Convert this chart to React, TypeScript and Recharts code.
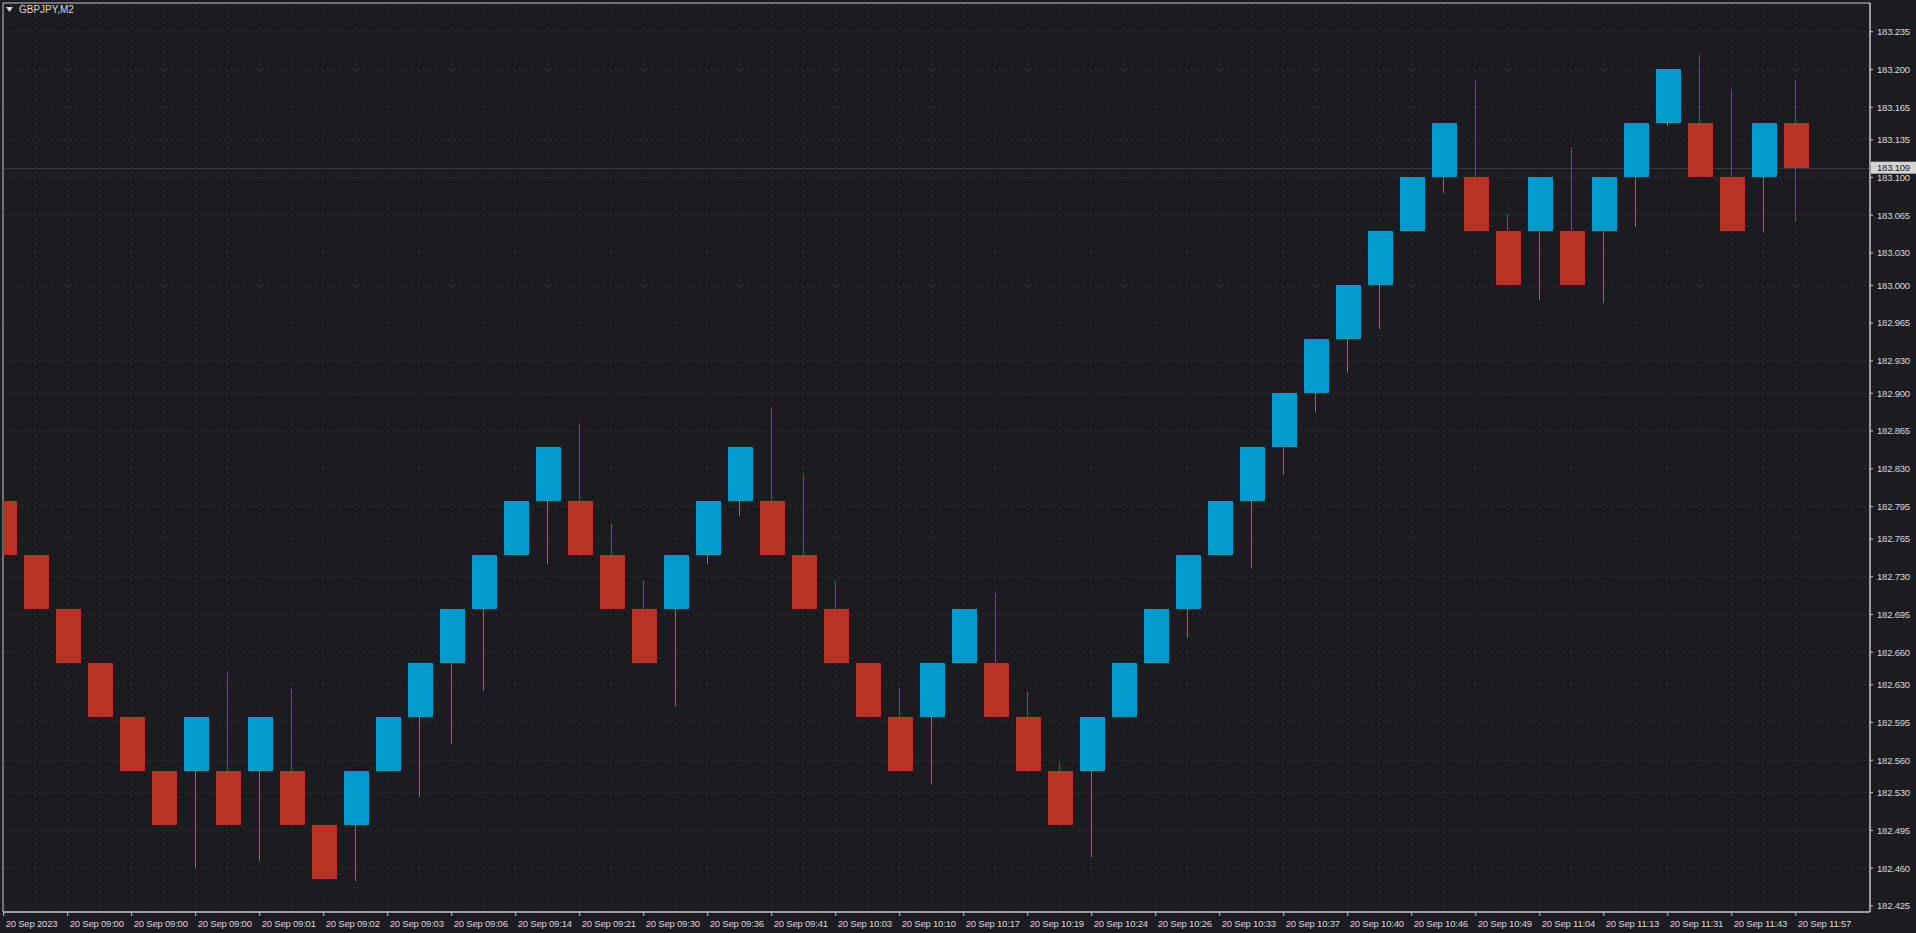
import { ComposedChart, Bar, XAxis, YAxis, CartesianGrid, ReferenceLine, ReferenceArea } from 'recharts';

// renko bricks, GBPJPY M2, box 0.05
const opens = [
  182.8, 182.75, 182.7, 182.65, 182.6, 182.55, 182.55, 182.55, 182.55, 182.55,
  182.5, 182.5, 182.55, 182.6, 182.65, 182.7, 182.75, 182.8, 182.8, 182.75,
  182.7, 182.7, 182.75, 182.8, 182.8, 182.75, 182.7, 182.65, 182.6, 182.6,
  182.65, 182.65, 182.6, 182.55, 182.55, 182.6, 182.65, 182.7, 182.75, 182.8,
  182.85, 182.9, 182.95, 183.0, 183.05, 183.1, 183.1, 183.05, 183.05, 183.05,
  183.05, 183.1, 183.15, 183.15, 183.1, 183.1, 183.15,
];
const closes = [
  182.75, 182.7, 182.65, 182.6, 182.55, 182.5, 182.6, 182.5, 182.6, 182.5,
  182.45, 182.55, 182.6, 182.65, 182.7, 182.75, 182.8, 182.85, 182.75, 182.7,
  182.65, 182.75, 182.8, 182.85, 182.75, 182.7, 182.65, 182.6, 182.55, 182.65,
  182.7, 182.6, 182.55, 182.5, 182.6, 182.65, 182.7, 182.75, 182.8, 182.85,
  182.9, 182.95, 183.0, 183.05, 183.1, 183.15, 183.05, 183.0, 183.1, 183.0,
  183.1, 183.15, 183.2, 183.1, 183.05, 183.15, 183.109,
];
const highs = [
  182.8, 182.75, 182.7, 182.65, 182.6, 182.55, 182.6, 182.641, 182.6, 182.626,
  182.5, 182.55, 182.6, 182.65, 182.7, 182.75, 182.8, 182.85, 182.872, 182.78,
  182.727, 182.75, 182.8, 182.85, 182.886, 182.825, 182.726, 182.65, 182.627, 182.65,
  182.7, 182.715, 182.624, 182.558, 182.6, 182.65, 182.7, 182.75, 182.8, 182.85,
  182.9, 182.95, 183.0, 183.05, 183.1, 183.15, 183.189, 183.067, 183.1, 183.128,
  183.1, 183.15, 183.2, 183.213, 183.182, 183.15, 183.19,
];
const lows = [
  182.75, 182.7, 182.65, 182.6, 182.55, 182.5, 182.46, 182.5, 182.467, 182.5,
  182.45, 182.448, 182.55, 182.526, 182.575, 182.624, 182.75, 182.742, 182.75, 182.7,
  182.65, 182.61, 182.742, 182.786, 182.75, 182.7, 182.65, 182.6, 182.55, 182.538,
  182.65, 182.6, 182.55, 182.5, 182.47, 182.6, 182.65, 182.673, 182.75, 182.738,
  182.824, 182.883, 182.919, 182.96, 183.05, 183.086, 183.05, 183.0, 182.986, 183.0,
  182.984, 183.054, 183.148, 183.1, 183.05, 183.049, 183.059,
];

const timeLabels = [
  '20 Sep 2023', '20 Sep 09:00', '20 Sep 09:00', '20 Sep 09:00', '20 Sep 09:01',
  '20 Sep 09:02', '20 Sep 09:03', '20 Sep 09:06', '20 Sep 09:14', '20 Sep 09:21',
  '20 Sep 09:30', '20 Sep 09:36', '20 Sep 09:41', '20 Sep 10:03', '20 Sep 10:10',
  '20 Sep 10:17', '20 Sep 10:19', '20 Sep 10:24', '20 Sep 10:26', '20 Sep 10:33',
  '20 Sep 10:37', '20 Sep 10:40', '20 Sep 10:46', '20 Sep 10:49', '20 Sep 11:04',
  '20 Sep 11:13', '20 Sep 11:31', '20 Sep 11:43', '20 Sep 11:57',
];

const priceTicks = [
  183.235, 183.2, 183.165, 183.135, 183.1, 183.065, 183.03, 183.0, 182.965,
  182.93, 182.9, 182.865, 182.83, 182.795, 182.765, 182.73, 182.695, 182.66,
  182.63, 182.595, 182.56, 182.53, 182.495, 182.46, 182.425,
];

const lastPrice = 183.109;

const bricks = opens.map((o, i) => ({
  i,
  open: o,
  close: closes[i],
  range: [lows[i], highs[i]],
}));

const BG = '#1c1c20';
const UP = '#009bcc';
const DOWN = '#b93324';
const FRAME = '#c4c4c4';
const TEXT = '#d4d9df';
const GRID = '#29292b';
const FONT = '"Liberation Sans", Arial, sans-serif';

const X_MIN = -0.02;
const X_MAX = 58.32;
const Y_MIN = 182.4194;
const Y_MAX = 183.2616;

const Brick = (props: any) => {
  const { x, y, width, height, payload } = props;
  if (!payload) return null;
  const [lo, hi] = payload.range;
  const top = Math.min(y, y + height);
  const h = Math.abs(height);
  const toY = (p: number) => top + ((hi - p) / (hi - lo)) * h;
  const color = payload.close >= payload.open ? UP : DOWN;
  const bTop = Math.round(toY(Math.max(payload.open, payload.close)));
  const bBot = Math.round(toY(Math.min(payload.open, payload.close)));
  const cx = Math.round(x + width / 2) - 0.5;
  return (
    <g>
      <line x1={cx} x2={cx} y1={Math.round(top)} y2={Math.round(top + h)} stroke={color} strokeWidth={1} />
      <rect x={Math.round(x)} y={bTop} width={Math.round(width)} height={Math.max(1, bBot - bTop)} fill={color} />
    </g>
  );
};

const TimeTick = ({ x, y, payload }: any) => (
  <text x={x + 2} y={y + 5} fill={TEXT} fontSize={9.5} fontFamily={FONT} letterSpacing={-0.2} dominantBaseline="central">
    {timeLabels[Math.round(payload.value / 2)]}
  </text>
);

const PriceTag = ({ viewBox }: any) => {
  if (!viewBox) return null;
  const x = viewBox.x + viewBox.width + 1;
  const y = viewBox.y;
  return (
    <g>
      <rect x={x} y={y - 6} width={46} height={12} fill="#d4d4d4" />
      <text x={x + 6} y={y} fill="#1c1c20" fontSize={9.5} fontFamily={FONT} letterSpacing={-0.2} dominantBaseline="central">
        {lastPrice.toFixed(3)}
      </text>
    </g>
  );
};

const xTicks = timeLabels.map((_, k) => k * 2);

const App = () => {
  return (
    <div style={{ position: 'absolute', left: 0, top: 0, width: 1916, height: 933, background: BG, overflow: 'hidden' }}>
      <ComposedChart width={1916} height={933} data={bricks} margin={{ top: 3, left: 3, right: 0, bottom: 0 }}>
        <CartesianGrid
          stroke={GRID}
          strokeDasharray="3 3"
          verticalCoordinatesGenerator={({ offset }: any) =>
            bricks.map((b) => offset.left + ((b.i - X_MIN) / (X_MAX - X_MIN)) * offset.width)
          }
        />
        {/* bid line, kept behind the bricks */}
        <CartesianGrid
          stroke="#35353a"
          vertical={false}
          horizontalCoordinatesGenerator={({ offset }: any) => [
            Math.round(offset.top + ((Y_MAX - lastPrice) / (Y_MAX - Y_MIN)) * offset.height) + 0.5,
          ]}
        />
        <XAxis
          dataKey="i"
          type="number"
          domain={[X_MIN, X_MAX]}
          allowDataOverflow
          ticks={xTicks}
          interval={0}
          height={21}
          stroke={FRAME}
          tickSize={4}
          tickLine={{ stroke: FRAME }}
          tick={<TimeTick />}
        />
        <YAxis
          orientation="right"
          type="number"
          domain={[Y_MIN, Y_MAX]}
          allowDataOverflow
          ticks={priceTicks}
          interval={0}
          width={46}
          stroke={FRAME}
          tickSize={3}
          tickMargin={4}
          tickFormatter={(v: number) => v.toFixed(3)}
          tick={{ fill: TEXT, fontSize: 9.5, fontFamily: FONT, letterSpacing: -0.2 }}
        />
        <Bar dataKey="range" barSize={25} shape={<Brick />} isAnimationActive={false} />
        <ReferenceLine y={lastPrice} stroke="none" label={<PriceTag />} />
        <ReferenceArea x1={X_MIN} x2={X_MAX} y1={Y_MIN} y2={Y_MAX} fill="none" stroke={FRAME} strokeWidth={1} fillOpacity={0} />
      </ComposedChart>
      <div style={{ position: 'absolute', left: 6, top: 4, display: 'flex', alignItems: 'center', gap: 6, color: TEXT, fontSize: 10, fontFamily: FONT }}>
        <svg width={7} height={5}>
          <polygon points="0,0 7,0 3.5,5" fill={TEXT} />
        </svg>
        <span>GBPJPY,M2</span>
      </div>
    </div>
  );
};

export default App;
